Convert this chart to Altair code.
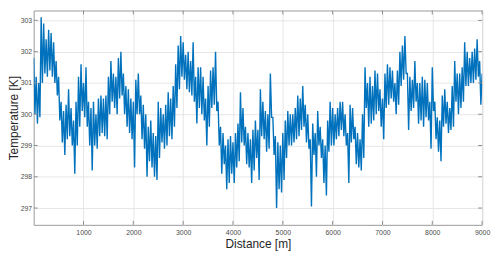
import altair as alt
import pandas as pd

# distance grid (m) at which the upper / lower envelope of the noisy trace was read
step = 50
hi = [301.8, 301.2, 301.0, 303.1, 302.9, 302.4, 302.7, 302.6, 302.3, 301.7,
      301.2, 300.4, 300.1, 300.3, 300.8, 300.2, 299.8, 300.4, 301.2, 301.6,
      301.0, 301.5, 300.4, 300.2, 300.4, 300.0, 300.5, 300.6, 300.5, 300.6,
      301.2, 301.7, 301.3, 301.2, 301.8, 302.0, 301.3, 300.9, 300.8, 300.5,
      300.4, 301.1, 301.3, 300.6, 300.3, 300.0, 299.6, 299.8, 299.4, 299.3,
      300.4, 300.2, 300.0, 300.3, 300.7, 300.5, 300.9, 301.6, 302.2, 302.5,
      302.3, 301.9, 302.0, 301.7, 302.3, 301.2, 301.5, 301.5, 301.2, 300.5,
      300.9, 301.4, 301.5, 302.0, 300.4, 299.6, 299.4, 299.0, 299.2, 299.3,
      299.1, 299.4, 299.7, 300.7, 300.2, 299.6, 299.4, 299.2, 299.5, 299.8,
      299.5, 300.8, 300.4, 300.1, 300.0, 301.3, 299.9, 299.3, 299.1, 299.0,
      299.4, 299.8, 300.1, 300.0, 300.0, 300.2, 300.6, 300.5, 300.9, 300.3,
      300.0, 299.2, 299.7, 299.4, 300.1, 299.6, 299.2, 299.0, 299.8, 300.4,
      300.2, 300.0, 300.2, 300.4, 300.4, 300.0, 299.4, 300.3, 300.2, 299.6,
      299.4, 299.2, 300.0, 301.5, 301.0, 301.2, 300.9, 301.4, 301.3, 300.8,
      300.5, 301.3, 301.6, 301.5, 301.4, 301.0, 301.4, 302.0, 302.2, 302.5,
      301.3, 301.2, 301.1, 301.7, 301.0, 301.0, 301.2, 301.1, 301.0, 300.4,
      301.5, 300.4, 299.9, 299.8, 300.6, 300.8, 300.4, 300.2, 300.9, 301.7,
      301.3, 301.3, 301.5, 302.3, 302.0, 301.8, 302.0, 302.1, 302.4, 301.7,
      301.3]
lo = [300.0, 299.7, 299.9, 301.0, 301.3, 301.2, 301.4, 301.2, 301.0, 300.6,
      299.8, 299.1, 298.7, 299.2, 299.3, 299.0, 298.1, 299.0, 299.6, 300.1,
      299.9, 299.6, 299.0, 298.2, 299.0, 298.9, 299.3, 299.4, 299.3, 299.2,
      300.0, 300.4, 300.2, 300.0, 300.5, 300.6, 300.0, 299.6, 299.4, 299.2,
      298.3, 300.0, 300.0, 299.2, 298.9, 298.0, 298.5, 298.3, 298.0, 297.9,
      298.6, 299.1, 298.9, 299.0, 299.3, 299.2, 299.6, 300.2, 300.8, 301.2,
      301.1, 300.8, 300.7, 300.6, 300.4, 299.7, 300.2, 300.0, 299.8, 299.0,
      299.6, 300.2, 300.3, 300.1, 299.0, 298.1, 298.4, 297.6, 297.8, 298.1,
      297.8, 298.3, 298.5, 299.1, 299.0, 298.4, 298.3, 297.8, 298.2, 298.6,
      297.9, 299.3, 299.2, 298.8, 298.9, 299.9, 298.7, 297.0, 297.6, 297.5,
      297.9, 298.6, 299.0, 299.0, 299.1, 299.2, 299.3, 299.5, 299.6, 299.1,
      298.9, 297.05, 298.7, 298.0, 299.0, 298.6, 297.8, 297.4, 298.8, 299.0,
      299.0, 299.2, 299.3, 299.5, 299.3, 299.0, 297.8, 299.1, 299.2, 298.4,
      298.3, 298.2, 298.6, 300.2, 299.6, 299.7, 299.8, 300.0, 300.1, 299.6,
      299.2, 300.2, 300.3, 300.5, 300.4, 300.0, 300.3, 300.9, 301.1, 301.3,
      299.5, 300.1, 300.2, 300.4, 299.7, 299.8, 299.6, 299.9, 299.8, 298.9,
      300.1, 299.2, 298.8, 298.5, 299.6, 299.7, 299.4, 299.5, 299.6, 300.4,
      300.0, 300.2, 300.4, 300.9, 300.9, 301.0, 301.0, 301.1, 301.2, 300.3,
      300.8]

x_ticks = [1000, 2000, 3000, 4000, 5000, 6000, 7000, 8000, 9000]
y_ticks = [297, 298, 299, 300, 301, 302, 303]

assert len(hi) == len(lo)
rows = []
for i, (h, l) in enumerate(zip(hi, lo)):
    d = i * step
    rows.append({"d": d, "T": h, "o": 2 * i})
    rows.append({"d": d + step / 2, "T": l, "o": 2 * i + 1})
df = pd.DataFrame(rows)

W, H = 454, 217
xs = alt.Scale(domain=[0, 9000], nice=False, zero=False)
ys = alt.Scale(domain=[296.463, 303.316], nice=False, zero=False)

FONT = "Liberation Sans"

xaxis = alt.Axis(
    values=x_ticks, format="d", title="Distance [m]", grid=True, gridColor="#e6e6e6",
    ticks=False, tickSize=0, domain=False, labelFontSize=7, labelColor="#4d4d4d",
    labelPadding=4, labelFlush=False, labelOverlap=False, titleFontSize=12,
    titleFontWeight="normal", titleColor="#262626", titlePadding=3,
    labelFont=FONT, titleFont=FONT)
yaxis = alt.Axis(
    values=y_ticks, format="d", title="Temperature [K]", grid=True, gridColor="#e6e6e6",
    ticks=False, tickSize=0, domain=False, labelFontSize=7, labelColor="#4d4d4d",
    labelPadding=2, labelFlush=False, labelOverlap=False, titleFontSize=12,
    titleFontWeight="normal", titleColor="#262626", titlePadding=0,
    labelFont=FONT, titleFont=FONT)

line = alt.Chart(df).mark_line(color="#0072BD", strokeWidth=1.4, clip=True).encode(
    x=alt.X("d:Q", scale=xs, axis=xaxis),
    y=alt.Y("T:Q", scale=ys, axis=yaxis),
    order="o:Q",
)

xt = pd.DataFrame({"v": x_ticks})
yt = pd.DataFrame({"v": y_ticks})
tick_color = "#8c8c8c"
tb = alt.Chart(xt).mark_rule(color=tick_color, strokeWidth=1).encode(
    x=alt.X("v:Q", scale=xs, axis=xaxis), y=alt.value(0), y2=alt.value(4))
bb = alt.Chart(xt).mark_rule(color=tick_color, strokeWidth=1).encode(
    x=alt.X("v:Q", scale=xs, axis=xaxis), y=alt.value(H), y2=alt.value(H - 4))
lt = alt.Chart(yt).mark_rule(color=tick_color, strokeWidth=1).encode(
    y=alt.Y("v:Q", scale=ys, axis=yaxis), x=alt.value(0), x2=alt.value(4))
rt = alt.Chart(yt).mark_rule(color=tick_color, strokeWidth=1).encode(
    y=alt.Y("v:Q", scale=ys, axis=yaxis), x=alt.value(W - 4), x2=alt.value(W))

chart = alt.layer(line, tb, bb, lt, rt).properties(
    width=W, height=H,
    autosize=alt.AutoSizeParams(type="none"),
    padding={"left": 26, "top": 1, "right": 10, "bottom": 30},
    background="white",
).configure_view(stroke="#999999", strokeWidth=1)

chart.save("out.html", embed_options={"renderer": "svg", "actions": False})
